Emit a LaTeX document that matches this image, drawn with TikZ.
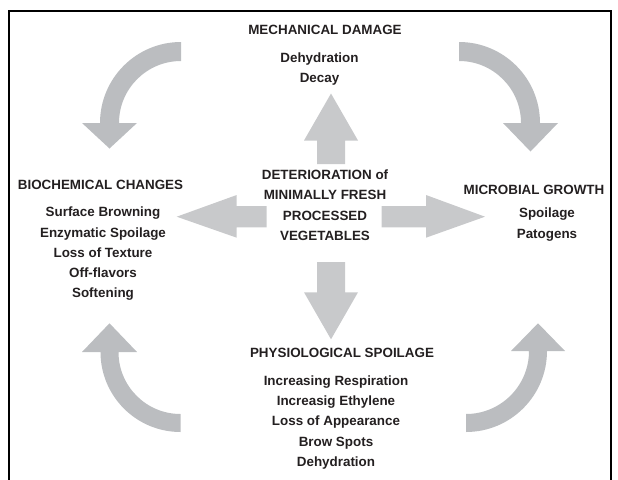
\documentclass[tikz,border=0pt]{standalone}
\usepackage{fontspec}
\setmainfont{Liberation Sans}
\definecolor{txt}{HTML}{231F20}
\definecolor{sarrow}{HTML}{C8C9CB}
\definecolor{carrow}{HTML}{BBBDC0}
\begin{document}
\begin{tikzpicture}[x=1pt,y=-1pt,
  lbl/.style={font=\fontsize{13.4}{20.2}\selectfont\bfseries, text=txt, inner sep=0pt, anchor=base},
  straightarrow/.style={fill=sarrow, draw=none},
  curvedarrow/.style={fill=carrow, draw=none},
  frameline/.style={draw=black, line width=2pt}]
\useasboundingbox (0,0) rectangle (618,479);
% frame
\draw[frameline] (8.5,480) -- (8.5,11) -- (611,11) -- (611,480);

% texts
\node[lbl] (mech) at (325,34) {MECHANICAL DAMAGE};
\node[lbl] (mech1) at (319.5,62) {Dehydration};
\node[lbl] (mech2) at (319.5,82.2) {Decay};

\node[lbl] (c1) at (325,179.7) {DETERIORATION of};
\node[lbl] (c2) at (325,199.9) {MINIMALLY FRESH};
\node[lbl] (c3) at (325,220.1) {PROCESSED};
\node[lbl] (c4) at (325,240.3) {VEGETABLES};

\node[lbl] (bio) at (100.5,189.7) {BIOCHEMICAL CHANGES};
\node[lbl] (bio1) at (103,216.8) {Surface Browning};
\node[lbl] (bio2) at (103,237.0) {Enzymatic Spoilage};
\node[lbl] (bio3) at (103,257.2) {Loss of Texture};
\node[lbl] (bio4) at (103,277.4) {Off-flavors};
\node[lbl] (bio5) at (103,297.6) {Softening};

\node[lbl] (mic) at (534,194) {MICROBIAL GROWTH};
\node[lbl] (mic1) at (547,217.8) {Spoilage};
\node[lbl] (mic2) at (547,238.0) {Patogens};

\node[lbl] (phy) at (342,357) {PHYSIOLOGICAL SPOILAGE};
\node[lbl] (phy1) at (336,385.5) {Increasing Respiration};
\node[lbl] (phy2) at (336,405.7) {Increasig Ethylene};
\node[lbl] (phy3) at (336,425.9) {Loss of Appearance};
\node[lbl] (phy4) at (336,446.1) {Brow Spots};
\node[lbl] (phy5) at (336,466.3) {Dehydration};

% straight arrows
\fill[straightarrow] (317,164) -- (317,140.5) -- (304,140.5) -- (331,93.5) -- (358,140.5) -- (345,140.5) -- (345,164) -- cycle;
\fill[straightarrow] (317,262) -- (317,292.3) -- (304,292.3) -- (331,339.3) -- (358,292.3) -- (345,292.3) -- (345,262) -- cycle;
\fill[straightarrow] (266.7,206) -- (236.7,206) -- (236.7,195) -- (176.7,216.7) -- (236.7,237.7) -- (236.7,227.3) -- (266.7,227.3) -- cycle;
\fill[straightarrow] (381.7,206) -- (426,206) -- (426,195) -- (485,216.7) -- (426,237.7) -- (426,227.3) -- (381.7,227.3) -- cycle;

% curved arrows
\fill[curvedarrow] (181,42) arc[start angle=-90,end angle=-180,radius=81]
  -- (82,123) -- (109.5,148.5) -- (137,123) -- (119,123)
  arc[start angle=180,end angle=270,radius=62] -- cycle;
\fill[curvedarrow] (459,42) arc[start angle=-90,end angle=0,radius=81]
  -- (558,123) -- (530.5,151.5) -- (503,123) -- (521,123)
  arc[start angle=0,end angle=-90,radius=62] -- cycle;
\fill[curvedarrow] (180.5,432) arc[start angle=90,end angle=180,radius=80]
  -- (82,352) -- (109.5,323.3) -- (137,352) -- (118.5,352)
  arc[start angle=180,end angle=90,radius=62] -- cycle;
\fill[curvedarrow] (466,432) arc[start angle=90,end angle=0,radius=81]
  -- (565,351) -- (538,323.3) -- (511,351) -- (529,351)
  arc[start angle=0,end angle=90,radius=63] -- cycle;
\end{tikzpicture}
\end{document}
